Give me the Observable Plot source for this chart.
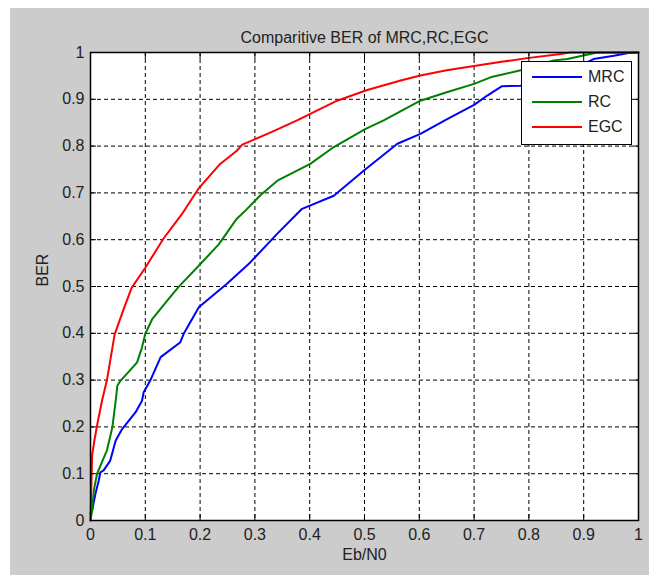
<!DOCTYPE html>
<html>
<head>
<meta charset="utf-8">
<script src="https://cdn.jsdelivr.net/npm/d3@7"></script>
<script src="https://cdn.jsdelivr.net/npm/@observablehq/plot@0.6"></script>
<style>
  html, body { margin: 0; padding: 0; background: #ffffff; }
  #wrap { position: relative; width: 649px; height: 575px; overflow: hidden; }
  #bg { position: absolute; left: 10px; top: 8px; right: 0; bottom: 0; background: #cccccc; }
  #chart { position: absolute; left: 0; top: 0; }
  #legend { position: absolute; left: 521px; top: 61px; width: 109px; height: 82px;
    background: #fff; border: 1px solid #000; font-family: "Liberation Sans", Arial, sans-serif;
    font-size: 16px; color: #222; }
  .item { position: absolute; left: 0; height: 20px; width: 109px; }
  .item .sw { position: absolute; left: 10px; top: 9px; width: 50px; height: 2px; }
  .item .lab { position: absolute; left: 66px; top: 0; line-height: 20px; }
</style>
</head>
<body>
<div id="wrap"><div id="bg"></div><div id="chart"></div><div id="legend"></div></div>
<script>
const titleText = "Comparitive BER of MRC,RC,EGC";
const xLabel = "Eb/N0";
const yLabel = "BER";
const seriesNames = ["MRC", "RC", "EGC"];
const seriesColors = ["#0000ff", "#008000", "#ff0000"];

const xTicks = [0, 0.1, 0.2, 0.3, 0.4, 0.5, 0.6, 0.7, 0.8, 0.9, 1];
const xTickLabels = ["0", "0.1", "0.2", "0.3", "0.4", "0.5", "0.6", "0.7", "0.8", "0.9", "1"];
const yTicks = [0, 0.1, 0.2, 0.3, 0.4, 0.5, 0.6, 0.7, 0.8, 0.9, 1];
const yTickLabels = ["0", "0.1", "0.2", "0.3", "0.4", "0.5", "0.6", "0.7", "0.8", "0.9", "1"];

const mrcX = [0, 0.003, 0.009, 0.015, 0.018, 0.024, 0.036, 0.046, 0.058, 0.082, 0.094, 0.097, 0.109, 0.128, 0.164, 0.170, 0.198, 0.249, 0.292, 0.341, 0.386, 0.444, 0.499, 0.560, 0.602, 0.650, 0.700, 0.724, 0.751, 0.785, 0.850, 0.906, 0.918, 0.955, 0.982, 1.0];
const mrcY = [0.015, 0.021, 0.057, 0.085, 0.103, 0.107, 0.128, 0.171, 0.196, 0.231, 0.256, 0.274, 0.299, 0.349, 0.381, 0.399, 0.456, 0.506, 0.552, 0.613, 0.666, 0.694, 0.748, 0.805, 0.826, 0.857, 0.888, 0.908, 0.928, 0.929, 0.955, 0.979, 0.986, 0.993, 0.999, 1.0];

const rcX = [0, 0.003, 0.006, 0.012, 0.030, 0.040, 0.046, 0.049, 0.055, 0.070, 0.085, 0.094, 0.100, 0.113, 0.140, 0.160, 0.198, 0.234, 0.267, 0.280, 0.310, 0.341, 0.401, 0.444, 0.502, 0.535, 0.602, 0.650, 0.700, 0.730, 0.785, 0.845, 0.870, 0.912, 0.925, 1.0];
const rcY = [0, 0.021, 0.064, 0.100, 0.150, 0.200, 0.256, 0.288, 0.299, 0.318, 0.338, 0.370, 0.399, 0.431, 0.470, 0.498, 0.545, 0.590, 0.645, 0.659, 0.695, 0.726, 0.762, 0.798, 0.837, 0.855, 0.897, 0.915, 0.933, 0.947, 0.962, 0.983, 0.986, 0.997, 1.0, 1.0];

const egcX = [0, 0.003, 0.007, 0.012, 0.021, 0.030, 0.044, 0.060, 0.075, 0.100, 0.133, 0.167, 0.197, 0.235, 0.267, 0.277, 0.330, 0.377, 0.401, 0.450, 0.505, 0.566, 0.602, 0.650, 0.700, 0.750, 0.797, 0.858, 0.875, 1.0];
const egcY = [0, 0.140, 0.170, 0.203, 0.256, 0.300, 0.397, 0.450, 0.497, 0.540, 0.602, 0.655, 0.709, 0.760, 0.790, 0.803, 0.830, 0.855, 0.869, 0.897, 0.920, 0.940, 0.951, 0.962, 0.971, 0.980, 0.988, 0.997, 1.0, 1.0];

const seriesX = [mrcX, rcX, egcX];
const seriesY = [mrcY, rcY, egcY];
const rows = [];
seriesNames.forEach((name, s) => {
  seriesX[s].forEach((x, i) => rows.push({series: name, x, y: seriesY[s][i]}));
});

const font = "'Liberation Sans', Arial, sans-serif";
const txt = "#222";
const xFmt = (d) => xTickLabels[xTicks.indexOf(d)];
const yFmt = (d) => yTickLabels[yTicks.indexOf(d)];
const blank = () => "";

const chart = Plot.plot({
  width: 649,
  height: 575,
  marginLeft: 90,
  marginRight: 11,
  marginTop: 52,
  marginBottom: 55,
  style: {background: "transparent", fontFamily: font, fontSize: "16px", color: txt, overflow: "visible"},
  x: {domain: [0, 1]},
  y: {domain: [0, 1]},
  color: {domain: seriesNames, range: seriesColors},
  marks: [
    Plot.frame({fill: "white", stroke: null}),
    Plot.gridX(xTicks, {stroke: "#000", strokeOpacity: 1, strokeDasharray: "4,3"}),
    Plot.gridY(yTicks, {stroke: "#000", strokeOpacity: 1, strokeDasharray: "4,3"}),
    Plot.line(rows, {x: "x", y: "y", z: "series", stroke: "series", strokeWidth: 2}),
    Plot.axisX(xTicks, {anchor: "bottom", tickSize: 0, tickPadding: 8, tickFormat: xFmt, label: null, fill: txt, fontSize: 16}),
    Plot.axisY(yTicks, {anchor: "left", tickSize: 0, tickPadding: 6, tickFormat: yFmt, label: null, fill: txt, fontSize: 16}),
    Plot.axisX(xTicks, {anchor: "bottom", tickSize: -6, tickFormat: blank, label: null, stroke: "#000"}),
    Plot.axisX(xTicks, {anchor: "top", tickSize: -6, tickFormat: blank, label: null, stroke: "#000"}),
    Plot.axisY(yTicks, {anchor: "left", tickSize: -6, tickFormat: blank, label: null, stroke: "#000"}),
    Plot.axisY(yTicks, {anchor: "right", tickSize: -6, tickFormat: blank, label: null, stroke: "#000"}),
    Plot.frame({stroke: "#000", strokeWidth: 1.5}),
    Plot.text([titleText], {frameAnchor: "top", dy: -21, fill: txt, fontSize: 16}),
    Plot.text([xLabel], {frameAnchor: "bottom", dy: 39, fill: txt, fontSize: 16}),
    Plot.text([yLabel], {frameAnchor: "left", dx: -48, rotate: -90, fill: txt, fontSize: 16})
  ]
});
document.getElementById("chart").appendChild(chart);

const legend = document.getElementById("legend");
seriesNames.forEach((name, i) => {
  const item = document.createElement("div");
  item.className = "item";
  item.style.top = (5 + i * 25) + "px";
  const sw = document.createElement("div");
  sw.className = "sw";
  sw.style.background = seriesColors[i];
  const lab = document.createElement("div");
  lab.className = "lab";
  lab.textContent = name;
  item.appendChild(sw);
  item.appendChild(lab);
  legend.appendChild(item);
});
</script>
</body>
</html>
